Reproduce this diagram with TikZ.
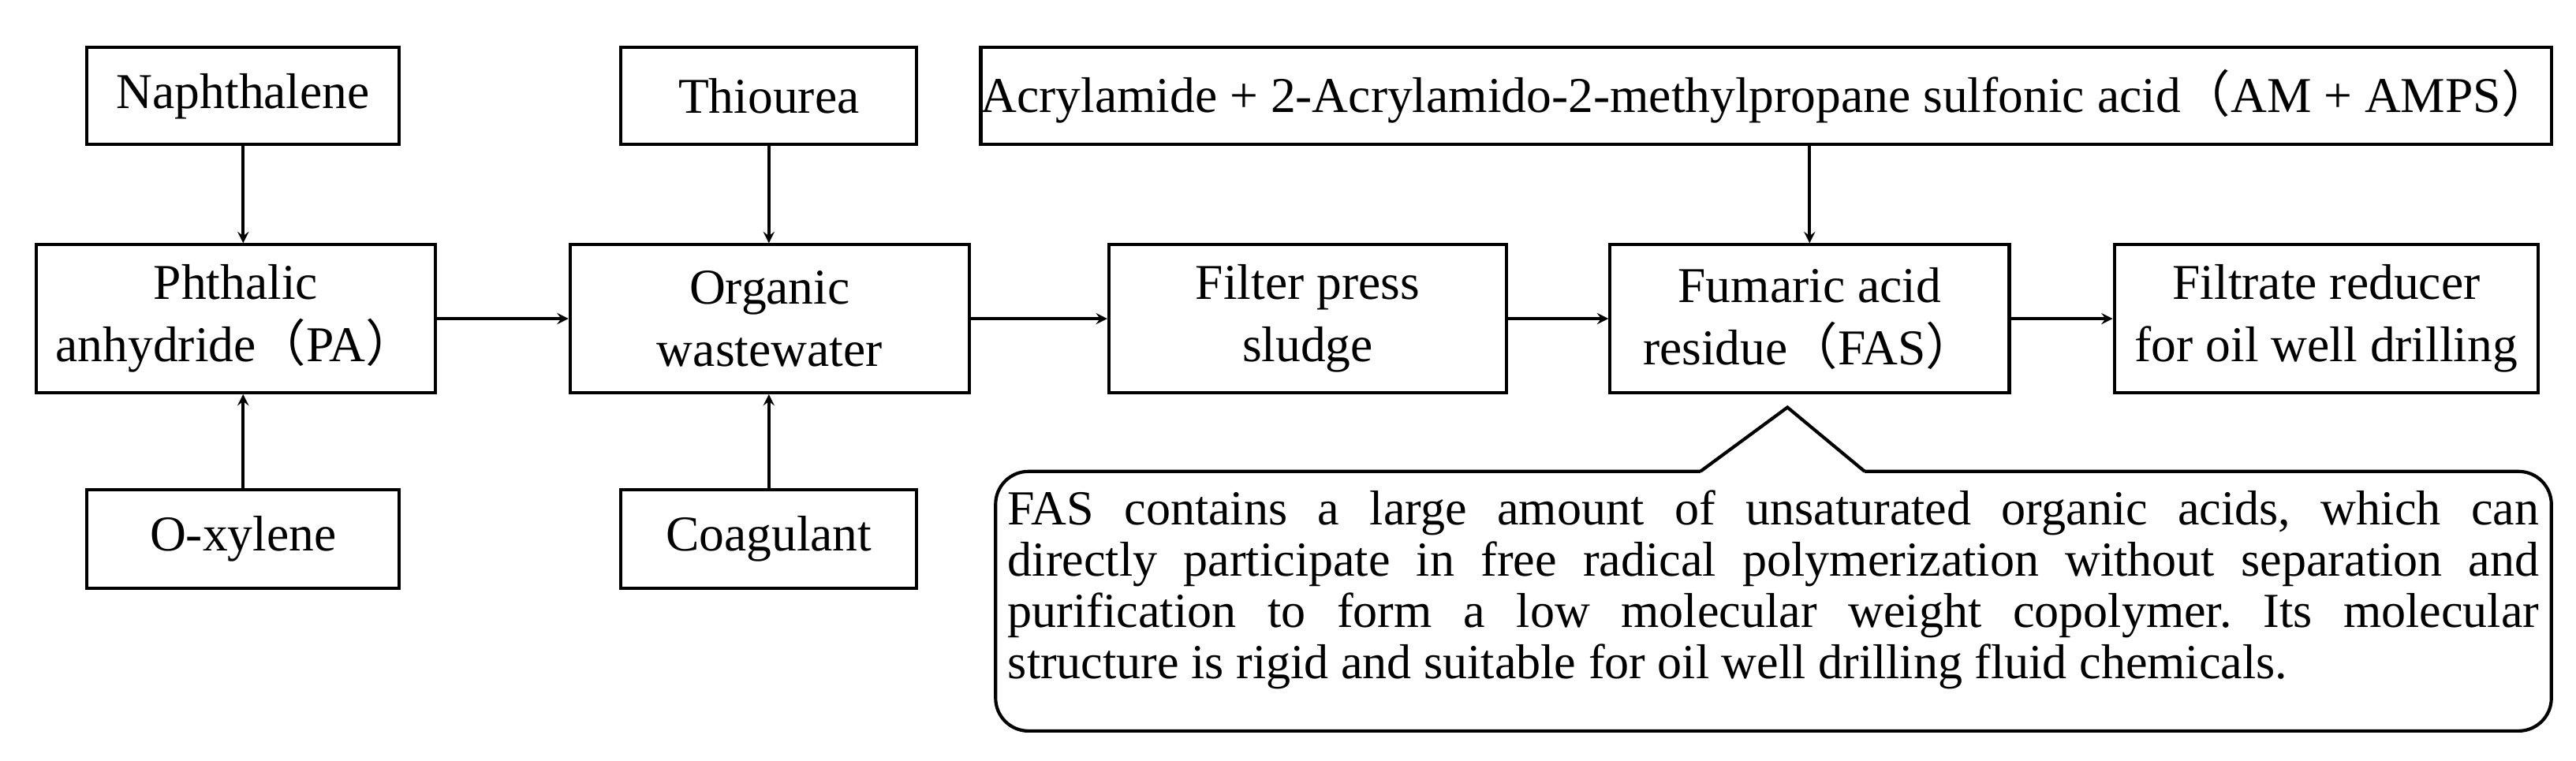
\documentclass[tikz,border=0pt]{standalone}
\usepackage{fontspec}
\setmainfont{Liberation Serif}
\newfontfamily\cjk{Noto Sans CJK SC}
\newcommand{\lp}{{\cjk （}}
\newcommand{\rp}{{\cjk ）}}
\begin{document}
\frenchspacing
\begin{tikzpicture}[x=1pt,y=-1pt,
  box/.style={draw,line width=2pt,minimum width=#1,align=center,inner sep=0pt,font=\fontsize{30.5}{38}\selectfont},
  box/.default=190pt,
  arr/.style={-stealth,line width=2pt}]
\useasboundingbox (0,0) rectangle (1568,463);
\node[box,minimum height=59pt] (nap) at (148,58.5) {Naphthalene};
\node[box=243pt,minimum height=90pt] (pa) at (143.5,194) {Phthalic\\anhydride\lp PA\rp};
\node[box,minimum height=60pt] (ox) at (148,328) {O-xylene};
\node[box=180pt,minimum height=59pt] (thio) at (468,58.5) {Thiourea};
\node[box=243pt,minimum height=90pt] (ow) at (468.5,194) {Organic\\wastewater};
\node[box=180pt,minimum height=60pt] (coag) at (468,328) {Coagulant};
\node[box=242pt,minimum height=90pt] (fp) at (796,194) {Filter press\\sludge};
\node[box=243pt,minimum height=90pt] (fas) at (1101.5,194) {Fumaric acid\\residue\lp FAS\rp};
\node[box=258pt,minimum height=90pt] (fr) at (1416,194) {Filtrate reducer\\for oil well drilling};
\node[box=940pt,minimum height=59pt] (am) at (1075,58.5) {Acrylamide + 2-Acrylamido-2-methylpropane sulfonic acid\lp AM + AMPS\rp};
\draw[arr] (nap.south) -- (nap.south |- pa.north);
\draw[arr] (ox.north) -- (ox.north |- pa.south);
\draw[arr] (thio.south) -- (thio.south |- ow.north);
\draw[arr] (coag.north) -- (coag.north |- ow.south);
\draw[arr] (pa) -- (ow);
\draw[arr] (ow) -- (fp);
\draw[arr] (fp) -- (fas);
\draw[arr] (fas) -- (fr);
\draw[arr] (am.south -| fas) -- (fas);
\draw[line width=2pt,rounded corners=20pt] (1035,287) -- (606,287) -- (606,445) -- (1553,445) -- (1553,287) -- (1135,287);
\draw[line width=2pt] (1035,287) -- (1088,248) -- (1135,287);
\node[text width=932pt,align=justify,inner sep=0pt,font=\fontsize{29.8}{31.3}\selectfont] (note) at (1079.5,359)
 {\hyphenpenalty=10000 FAS contains a large amount of unsaturated organic acids, which can\linebreak directly participate in free radical polymerization without separation and\linebreak purification to form a low molecular weight copolymer. Its molecular\linebreak structure is rigid and suitable for oil well drilling fluid chemicals.};
\end{tikzpicture}
\end{document}
